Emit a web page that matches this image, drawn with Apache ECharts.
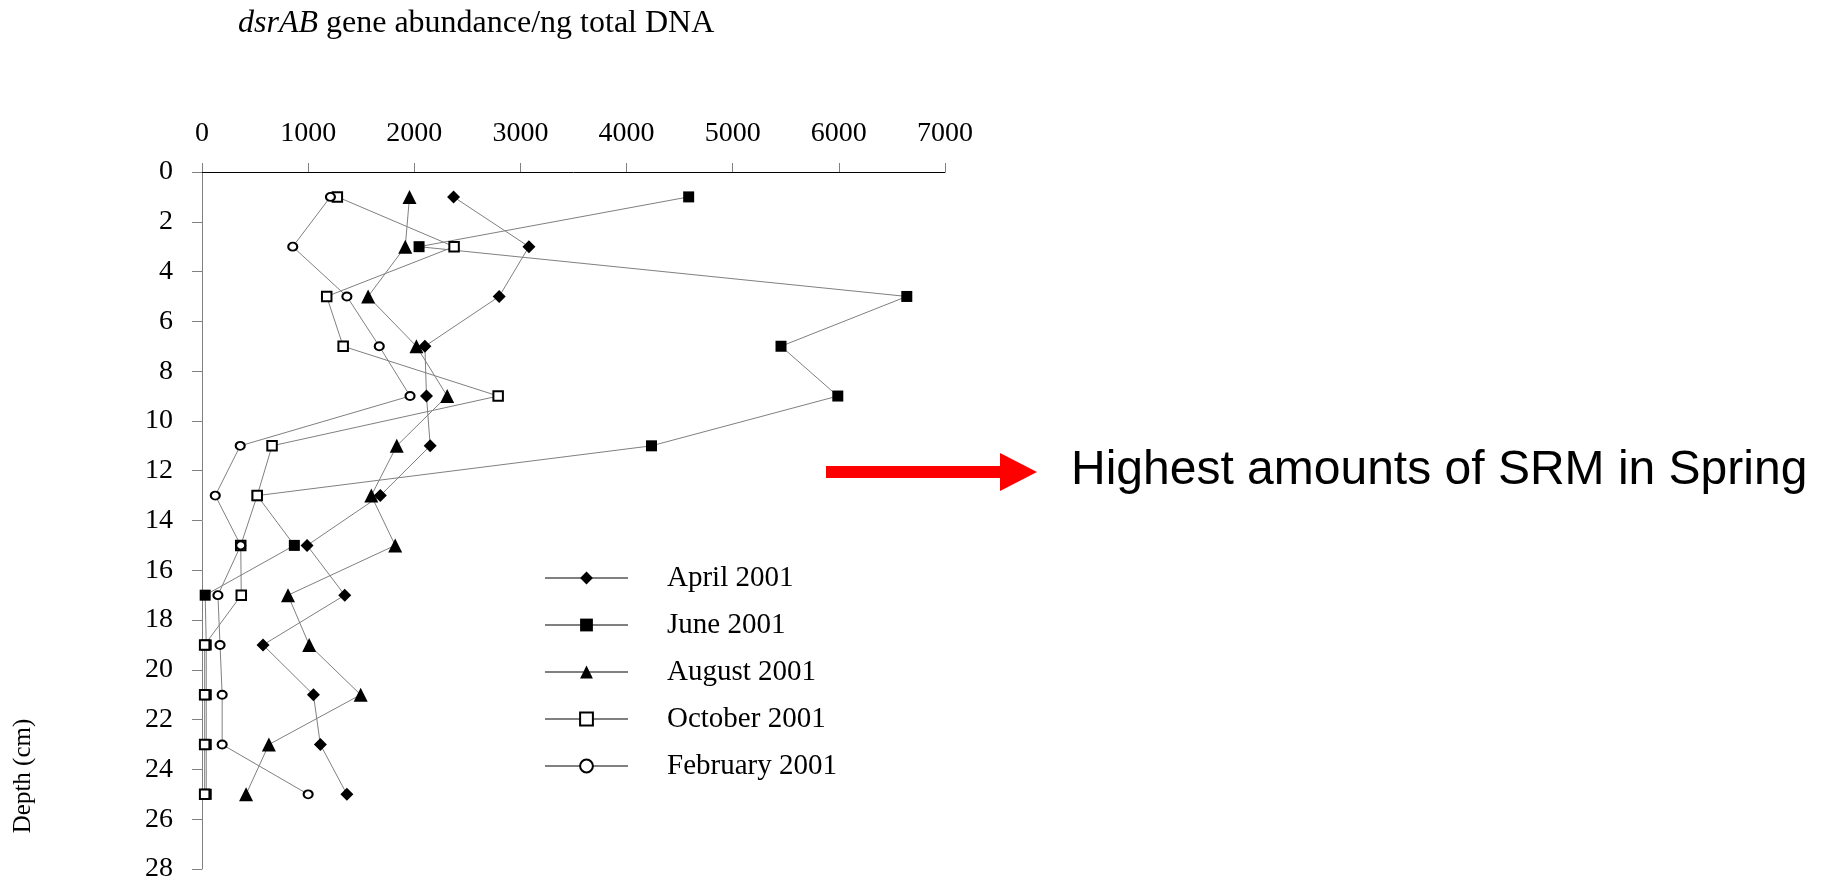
<!DOCTYPE html>
<html>
<head>
<meta charset="utf-8">
<title>dsrAB gene abundance by depth</title>
<script src="https://cdn.jsdelivr.net/npm/echarts@6/dist/echarts.min.js"></script>
<style>
  html, body { margin: 0; padding: 0; background: #fff; }
  #chart { width: 1832px; height: 883px; }
</style>
</head>
<body>
<div id="chart"></div>
<script>
// Sediment depth of each sample (cm)
const depths = [1, 3, 5, 7, 9, 11, 13, 15, 17, 19, 21, 23, 25];

// dsrAB gene abundance per ng total DNA at each depth
const april2001    = [2370, 3080, 2800, 2100, 2115, 2150, 1680, 990, 1345, 575, 1050, 1115, 1365];
const june2001     = [4585, 2045, 6640, 5455, 5990, 4235, 520, 870, 30, 40, 40, 40, 40];
const august2001   = [1955, 1915, 1565, 2020, 2310, 1835, 1595, 1820, 810, 1010, 1495, 630, 415];
const october2001  = [1275, 2375, 1175, 1330, 2790, 660, 520, 365, 370, 25, 25, 25, 25];
const february2001 = [1210, 855, 1365, 1670, 1960, 360, 125, 365, 150, 170, 190, 190, 1000];

const seriesNames = ['April 2001', 'June 2001', 'August 2001', 'October 2001', 'February 2001'];

const serif = '"Liberation Serif", "Times New Roman", serif';
const sans = '"Liberation Sans", Arial, sans-serif';
const lineGrey = '#808080';

function pairs(values) {
  return values.map((v, i) => [v, depths[i]]);
}

function profile(name, values, symbol, size, filled) {
  return {
    name: name,
    type: 'line',
    data: pairs(values),
    symbol: symbol,
    symbolSize: size,
    showSymbol: true,
    lineStyle: { color: lineGrey, width: 1 },
    itemStyle: filled
      ? { color: '#000', borderColor: '#000', borderWidth: 0 }
      : { color: '#fff', borderColor: '#000', borderWidth: 2 },
    emphasis: { disabled: true },
    z: 3
  };
}

const chart = echarts.init(document.getElementById('chart'), null, { renderer: 'canvas' });

chart.setOption({
  animation: false,
  backgroundColor: '#fff',
  grid: { left: 202, top: 172, right: 887, bottom: 8, containLabel: false },
  xAxis: {
    type: 'value',
    position: 'top',
    min: 0,
    max: 7000,
    interval: 1000,
    axisLine: { show: true, lineStyle: { color: '#000', width: 1 } },
    axisTick: { show: true, length: 9, lineStyle: { color: lineGrey } },
    axisLabel: {
      fontFamily: serif, fontSize: 28, color: '#000', margin: 24,
      formatter: (v) => String(v)
    },
    splitLine: { show: false }
  },
  yAxis: {
    type: 'value',
    inverse: true,
    min: 0,
    max: 28,
    interval: 2,
    axisLine: { show: true, lineStyle: { color: lineGrey, width: 1 } },
    axisTick: { show: true, length: 10, lineStyle: { color: lineGrey } },
    axisLabel: { fontFamily: serif, fontSize: 28, color: '#000', margin: 29 },
    splitLine: { show: false }
  },
  legend: {
    data: seriesNames,
    orient: 'vertical',
    left: 539,
    top: 558,
    itemWidth: 83,
    itemHeight: 16,
    itemGap: 17,
    textStyle: {
      fontFamily: serif,
      fontSize: 29,
      color: '#000',
      lineHeight: 30,
      padding: [0, 0, 0, 34]
    }
  },
  series: [
    profile('April 2001', april2001, 'diamond', 13, true),
    profile('June 2001', june2001, 'rect', 11, true),
    profile('August 2001', august2001, 'triangle', 14, true),
    profile('October 2001', october2001, 'rect', 9.5, false),
    profile('February 2001', february2001, 'circle', [9, 8], false)
  ],
  graphic: [
    {
      type: 'text',
      left: 238,
      top: 8,
      style: {
        text: '{it|dsrAB} gene abundance/ng total DNA',
        rich: {
          it: { fontFamily: serif, fontSize: 32, fontStyle: 'italic', fill: '#000' }
        },
        font: '32px ' + serif,
        fill: '#000'
      }
    },
    {
      type: 'text',
      x: 23,
      y: 776,
      rotation: Math.PI / 2,
      style: {
        text: 'Depth (cm)',
        font: '25px ' + serif,
        fill: '#000',
        align: 'center',
        verticalAlign: 'middle'
      }
    },
    {
      type: 'polygon',
      shape: {
        points: [[826, 466], [1000, 466], [1000, 453], [1037, 472], [1000, 491], [1000, 478], [826, 478]]
      },
      style: { fill: '#ff0000' }
    },
    {
      type: 'text',
      x: 1071,
      y: 471,
      style: {
        text: 'Highest amounts of SRM in Spring',
        font: '48px ' + sans,
        fill: '#000',
        align: 'left',
        verticalAlign: 'middle'
      }
    }
  ]
});
</script>
</body>
</html>
